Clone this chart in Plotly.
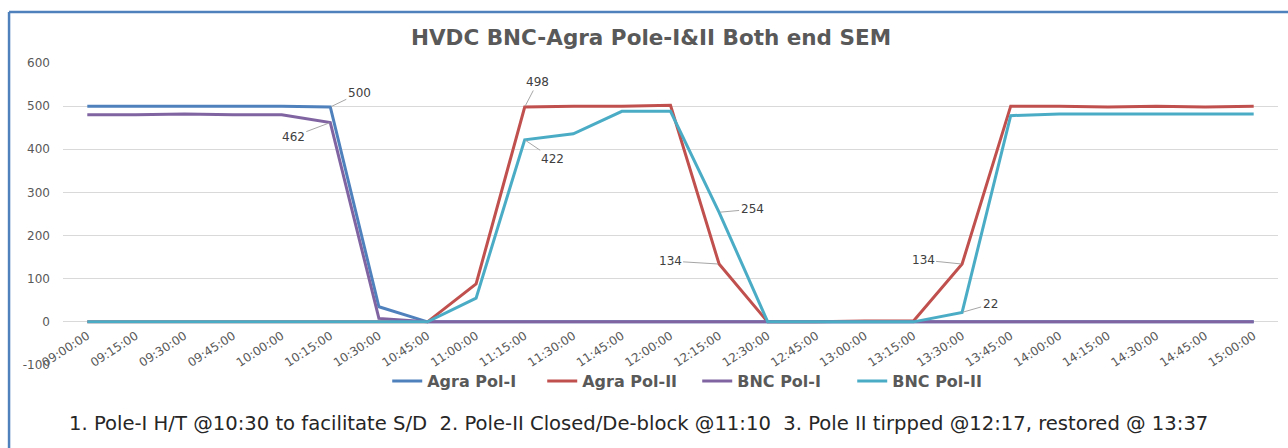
import plotly.graph_objects as go

times = ["09:00:00", "09:15:00", "09:30:00", "09:45:00", "10:00:00", "10:15:00", "10:30:00",
         "10:45:00", "11:00:00", "11:15:00", "11:30:00", "11:45:00", "12:00:00", "12:15:00",
         "12:30:00", "12:45:00", "13:00:00", "13:15:00", "13:30:00", "13:45:00", "14:00:00",
         "14:15:00", "14:30:00", "14:45:00", "15:00:00"]

agra_pol1 = [500, 500, 500, 500, 500, 498, 35, 0, 0, 0, 0, 0, 0, 0,
             0, 0, 0, 0, 0, 0, 0, 0, 0, 0, 0]
agra_pol2 = [0, 0, 0, 0, 0, 0, 0, 0, 88, 498, 500, 500, 502, 134,
             0, 0, 2, 2, 134, 500, 500, 498, 500, 498, 500]
bnc_pol1 = [480, 480, 482, 480, 480, 462, 8, 0, 0, 0, 0, 0, 0, 0,
            0, 0, 0, 0, 0, 0, 0, 0, 0, 0, 0]
bnc_pol2 = [0, 0, 0, 0, 0, 0, 0, 0, 55, 422, 436, 488, 488, 254,
            0, 0, 0, 0, 22, 478, 482, 482, 482, 482, 482]

y_tick_values = [-100, 0, 100, 200, 300, 400, 500, 600]
y_tick_labels = ["-100", "0", "100", "200", "300", "400", "500", "600"]

series_names = ["Agra Pol-I", "Agra Pol-II", "BNC Pol-I", "BNC Pol-II"]
series_colors = ["#4F81BD", "#C0504D", "#8064A2", "#4BACC6"]
series_values = [agra_pol1, agra_pol2, bnc_pol1, bnc_pol2]

# data labels: (series index, category index, label text, dx, dy)
data_labels = [
    (0, 5, "500", 29, -14),
    (2, 5, "462", -37, 14),
    (1, 9, "498", 13, -25),
    (3, 9, "422", 28, 19),
    (3, 13, "254", 33, -3),
    (1, 13, "134", -49, -3),
    (1, 18, "134", -39, -4),
    (3, 18, "22", 28, -8),
]

title_text = "HVDC BNC-Agra Pole-I&II Both end SEM"
note_text = ("1. Pole-I H/T @10:30 to facilitate S/D  2. Pole-II Closed/De-block @11:10  "
             "3. Pole II tirpped @12:17, restored @ 13:37")

fig = go.Figure()
for name, color, vals in zip(series_names, series_colors, series_values):
    fig.add_trace(go.Scatter(x=times, y=vals, name=name, mode="lines",
                             line=dict(color=color, width=3)))

for si, ci, txt, dx, dy in data_labels:
    fig.add_annotation(x=times[ci], y=series_values[si][ci], text=txt,
                       showarrow=True, arrowhead=0, arrowwidth=1, arrowcolor="#A6A6A6",
                       ax=dx, ay=dy, standoff=1,
                       font=dict(family="DejaVu Sans", size=12, color="#404040"))

fig.add_annotation(xref="paper", yref="paper", x=0.474, y=-0.195, text=note_text,
                   showarrow=False, xanchor="center", yanchor="middle",
                   font=dict(family="DejaVu Sans", size=19.6, color="#262626"))

# chart border (top and left edges visible)
fig.add_shape(type="line", xref="paper", yref="paper", x0=-0.0444, x1=1.01, y0=1.169, y1=1.169,
              line=dict(color="#4F81BD", width=2.5))
fig.add_shape(type="line", xref="paper", yref="paper", x0=-0.0444, x1=-0.0444, y0=-0.3, y1=1.169,
              line=dict(color="#4F81BD", width=2.5))

fig.update_layout(
    width=1288, height=448,
    margin=dict(l=63, r=10, t=63, b=83, autoexpand=False),
    paper_bgcolor="white", plot_bgcolor="white",
    title=dict(text=title_text, x=651 / 1288, xanchor="center", y=1 - 37 / 448, yanchor="middle",
               yref="container", automargin=False,
               font=dict(family="DejaVu Sans", size=21.5, color="#595959", weight="bold")),
    showlegend=True,
    legend=dict(orientation="h", x=0.522, xanchor="center", y=-0.053, yanchor="middle",
                entrywidth=110,
                font=dict(family="DejaVu Sans", size=16, color="#595959", weight="bold"),
                bgcolor="rgba(0,0,0,0)"),
    xaxis=dict(type="category", range=[-0.5, 24.5], anchor="free", position=1 / 7,
               automargin=False,
               showgrid=False, showline=False, zeroline=False, ticks="",
               tickangle=-33, ticklabelstandoff=4,
               tickfont=dict(family="DejaVu Sans", size=12, color="#595959")),
    yaxis=dict(range=[-100, 600], tickvals=y_tick_values, ticktext=y_tick_labels,
               showgrid=True, gridcolor="#D9D9D9", gridwidth=1,
               automargin=False,
               zeroline=False, showline=False, ticks="", ticklabelstandoff=12,
               tickfont=dict(family="DejaVu Sans", size=12, color="#595959")),
)

fig.write_html("out.html", config={"displayModeBar": False},
               post_script="document.body.style.margin='0';")
